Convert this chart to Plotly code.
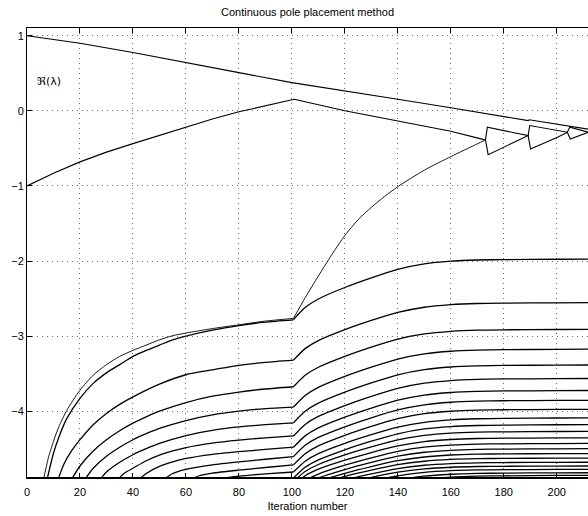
import plotly.graph_objects as go

# ---------------- data ----------------
x_ticks = [0, 20, 40, 60, 80, 100, 120, 140, 160, 180, 200]
y_ticks = [-4, -3, -2, -1, 0, 1]

# upper branch starting at +1
top_x = [0, 20, 40, 60, 80, 100, 120, 140, 160, 170, 180, 189.2, 189.6, 205, 212]
top_y = [1.0, 0.90, 0.777, 0.648, 0.509, 0.375, 0.268, 0.153, 0.04, -0.018, -0.075, -0.13, -0.12, -0.205, -0.245]

# branch starting at -1 (ends in the triangle pattern)
low_x = [0, 10, 20, 30, 40, 50, 60, 70, 80, 90, 100, 100.9, 120, 140, 160, 171, 173.1, 173.8, 189.2, 189.8, 204, 204.9, 212]
low_y = [-1.0, -0.83, -0.68, -0.55, -0.437, -0.325, -0.214, -0.11, -0.013, 0.068, 0.143, 0.153, 0.0, -0.134, -0.272, -0.37, -0.388, -0.218, -0.33, -0.196, -0.285, -0.218, -0.285]

# thin curve before iteration 100 that becomes the steep rising branch
p1_x = [6.0, 8, 10, 12, 15, 20, 25, 30, 35, 40, 45, 50, 55, 60, 70, 80, 90, 100.6]
p1_y = [-4.95, -4.63, -4.40, -4.21, -3.99, -3.72, -3.52, -3.38, -3.27, -3.19, -3.12, -3.05, -2.995, -2.96, -2.90, -2.85, -2.80, -2.765]
rise_x = [100.6, 105, 110, 115, 120, 125, 130, 135, 140, 150, 160, 170, 173.1]
rise_y = [-2.765, -2.49, -2.20, -1.92, -1.66, -1.45, -1.285, -1.14, -1.01, -0.79, -0.61, -0.44, -0.388]
tri_x = [173.1, 174.1, 189.2, 190.1, 200.5, 204, 205.1, 212]
tri_y = [-0.388, -0.584, -0.33, -0.508, -0.35, -0.285, -0.375, -0.285]

# curves before the switch at iteration ~100
pre_a_x = [7.3, 10, 12, 15, 20, 25, 30.8, 35, 40, 45, 50, 55, 60, 70, 80, 90, 100.6]
pre_a_y = [-4.95, -4.56, -4.35, -4.10, -3.83, -3.63, -3.47, -3.38, -3.27, -3.19, -3.12, -3.05, -3.0, -2.92, -2.86, -2.815, -2.785]
pre_b_x = [11.3, 14, 17, 20, 25, 30, 35, 40, 50, 60, 70, 80, 90, 100.6]
pre_b_y = [-4.95, -4.70, -4.52, -4.38, -4.18, -4.03, -3.91, -3.81, -3.64, -3.515, -3.45, -3.39, -3.35, -3.32]
pre_c_x = [16.1, 20, 25, 30, 35, 40, 45, 50, 60, 70, 80, 90, 100.6]
pre_c_y = [-4.95, -4.73, -4.53, -4.38, -4.26, -4.16, -4.075, -4.0, -3.885, -3.80, -3.745, -3.705, -3.675]
pre_d_x = [21.0, 25, 30, 35, 40, 45, 50, 60, 70, 80, 90, 100.6]
pre_d_y = [-4.95, -4.76, -4.60, -4.48, -4.38, -4.30, -4.23, -4.125, -4.05, -4.0, -3.965, -3.945]
pre_e_x = [26.7, 30, 35, 40, 45, 50, 60, 70, 80, 90, 100.6]
pre_e_y = [-4.95, -4.81, -4.68, -4.58, -4.50, -4.43, -4.325, -4.255, -4.21, -4.18, -4.155]
pre_f_x = [33.0, 37, 40, 45, 50, 55, 60, 70, 80, 90, 100.6]
pre_f_y = [-4.95, -4.82, -4.76, -4.66, -4.585, -4.53, -4.485, -4.425, -4.385, -4.355, -4.33]
pre_g_x = [41.0, 45, 50, 55, 60, 70, 80, 90, 100.6]
pre_g_y = [-4.95, -4.83, -4.735, -4.675, -4.63, -4.575, -4.54, -4.51, -4.48]
pre_h_x = [50.0, 55, 60, 70, 80, 90, 100.6]
pre_h_y = [-4.95, -4.83, -4.775, -4.715, -4.675, -4.64, -4.605]
pre_i_x = [59.3, 65, 70, 80, 90, 100.6]
pre_i_y = [-4.95, -4.86, -4.825, -4.785, -4.75, -4.715]
pre_j_x = [70.0, 75, 80, 90, 100.6]
pre_j_y = [-4.95, -4.89, -4.865, -4.835, -4.81]

# curves after the switch (all sampled at post_x)
post_x = [100.6, 105, 110, 120, 130, 140, 150, 160, 170, 180, 200, 212]
post_a_y = [-2.78, -2.619, -2.506, -2.353, -2.225, -2.112, -2.039, -2.003, -1.987, -1.981, -1.977, -1.975]
post_b_y = [-3.32, -3.167, -3.060, -2.915, -2.792, -2.685, -2.616, -2.582, -2.566, -2.561, -2.557, -2.555]
post_c_y = [-3.675, -3.522, -3.415, -3.27, -3.147, -3.04, -2.971, -2.937, -2.921, -2.916, -2.912, -2.91]
post_d_y = [-3.945, -3.791, -3.683, -3.537, -3.414, -3.306, -3.237, -3.202, -3.187, -3.181, -3.177, -3.175]
post_e_y = [-4.155, -4.001, -3.893, -3.747, -3.624, -3.516, -3.447, -3.412, -3.397, -3.391, -3.387, -3.385]
post_f_y = [-4.33, -4.177, -4.07, -3.925, -3.802, -3.695, -3.626, -3.592, -3.576, -3.571, -3.567, -3.565]
post_g_y = [-4.48, -4.329, -4.223, -4.08, -3.959, -3.853, -3.785, -3.751, -3.736, -3.731, -3.727, -3.725]
post_h_y = [-4.605, -4.455, -4.35, -4.208, -4.088, -3.983, -3.915, -3.881, -3.866, -3.861, -3.857, -3.855]
post_i_y = [-4.715, -4.567, -4.463, -4.323, -4.204, -4.1, -4.034, -4.001, -3.986, -3.981, -3.976, -3.975]
post_j_y = [-4.81, -4.666, -4.565, -4.428, -4.313, -4.212, -4.148, -4.115, -4.101, -4.096, -4.091, -4.09]
post_k_y = [-4.89, -4.748, -4.649, -4.514, -4.4, -4.301, -4.237, -4.205, -4.191, -4.186, -4.181, -4.18]
# curves rising from below the visible range after the switch
post_l_y = [-4.937, -4.804, -4.71, -4.583, -4.477, -4.383, -4.323, -4.293, -4.28, -4.275, -4.271, -4.27]
post_m_y = [-4.988, -4.861, -4.773, -4.653, -4.551, -4.463, -4.406, -4.377, -4.364, -4.36, -4.356, -4.355]
post_n_y = [-5.048, -4.924, -4.838, -4.72, -4.622, -4.535, -4.479, -4.452, -4.439, -4.435, -4.431, -4.43]
post_o_y = [-5.09, -4.972, -4.889, -4.777, -4.683, -4.60, -4.547, -4.521, -4.509, -4.505, -4.501, -4.50]
post_p_y = [-5.122, -5.011, -4.933, -4.827, -4.738, -4.66, -4.61, -4.584, -4.573, -4.569, -4.566, -4.565]
post_q_y = [-5.145, -5.041, -4.968, -4.869, -4.786, -4.713, -4.667, -4.643, -4.633, -4.629, -4.626, -4.625]
post_r_y = [-5.18, -5.08, -5.01, -4.915, -4.835, -4.765, -4.72, -4.698, -4.688, -4.684, -4.681, -4.68]
late_x = [120, 130, 140, 150, 160, 170, 180, 200, 212]
late_s_y = [-4.96, -4.882, -4.813, -4.769, -4.747, -4.737, -4.734, -4.731, -4.73]
late_t_y = [-5.015, -4.933, -4.862, -4.816, -4.793, -4.783, -4.779, -4.776, -4.775]
late_u_y = [-5.08, -5.0, -4.919, -4.866, -4.84, -4.829, -4.825, -4.821, -4.82]
late_v_y = [-5.1, -5.04, -4.974, -4.911, -4.88, -4.866, -4.861, -4.856, -4.855]
late_w_y = [-5.1, -5.05, -5.0, -4.95, -4.91, -4.898, -4.892, -4.887, -4.885]

# ---------------- figure ----------------
fig = go.Figure()
BLACK = "black"


def add(xs, ys, width=1.3, spline=True):
    line = dict(color=BLACK, width=width, shape="spline" if spline else "linear")
    if spline:
        line["smoothing"] = 0.6
    fig.add_trace(go.Scatter(x=xs, y=ys, mode="lines", line=line,
                             hoverinfo="skip", showlegend=False))


add(top_x, top_y, 1.1, spline=False)
add(low_x, low_y, 1.1, spline=False)
add(p1_x, p1_y, 0.9)
add(rise_x, rise_y, 0.9)
add(tri_x, tri_y, 1.1, spline=False)

for xs, ys in [(pre_a_x, pre_a_y), (pre_b_x, pre_b_y), (pre_c_x, pre_c_y),
               (pre_d_x, pre_d_y), (pre_e_x, pre_e_y), (pre_f_x, pre_f_y),
               (pre_g_x, pre_g_y), (pre_h_x, pre_h_y), (pre_i_x, pre_i_y),
               (pre_j_x, pre_j_y)]:
    add(xs, ys)

for ys in [post_a_y, post_b_y, post_c_y, post_d_y, post_e_y, post_f_y,
           post_g_y, post_h_y, post_i_y, post_j_y, post_k_y, post_l_y,
           post_m_y, post_n_y, post_o_y, post_p_y, post_q_y, post_r_y]:
    add(post_x, ys)

for ys in [late_s_y, late_t_y, late_u_y, late_v_y, late_w_y]:
    add(late_x, ys)

fig.add_annotation(x=3.1, y=0.39, xref="x", yref="y", text="ℜ(λ)",
                   showarrow=False, xanchor="left", yanchor="middle",
                   font=dict(size=11, color="black",
                             family="DejaVu Sans, Liberation Sans, sans-serif"))

# heavier bottom edge (curves pile up on the lower limit in the original)
fig.add_shape(type="line", xref="paper", yref="paper", x0=0, x1=1, y0=0, y1=0,
              line=dict(color="black", width=2.2))

grid = dict(showgrid=True, gridcolor="#707070", griddash="1px,4px", gridwidth=1)
fig.update_xaxes(range=[0, 211.8], tickvals=x_ticks, ticks="inside", ticklen=5,
                 tickcolor="black", showline=True, linecolor="black", linewidth=1,
                 mirror="ticks", zeroline=False, ticklabelstandoff=4,
                 title=dict(text="Iteration number", standoff=5,
                            font=dict(size=11)), **grid)
fig.update_yaxes(range=[-4.89, 1.103], tickvals=y_ticks, ticks="inside", ticklen=5,
                 tickcolor="black", showline=True, linecolor="black", linewidth=1,
                 mirror=False, zeroline=False, **grid)

fig.update_layout(
    width=588, height=516,
    margin=dict(l=27, r=0, t=28, b=38),
    plot_bgcolor="white", paper_bgcolor="white",
    showlegend=False,
    font=dict(family="Liberation Sans, Arial, Helvetica, sans-serif", size=11, color="black"),
    title=dict(text="Continuous pole placement method", x=0.5, xref="paper",
               xanchor="center", y=1 - 12 / 516, yref="container", yanchor="middle",
               font=dict(size=11)),
)

fig.write_html("out.html")
